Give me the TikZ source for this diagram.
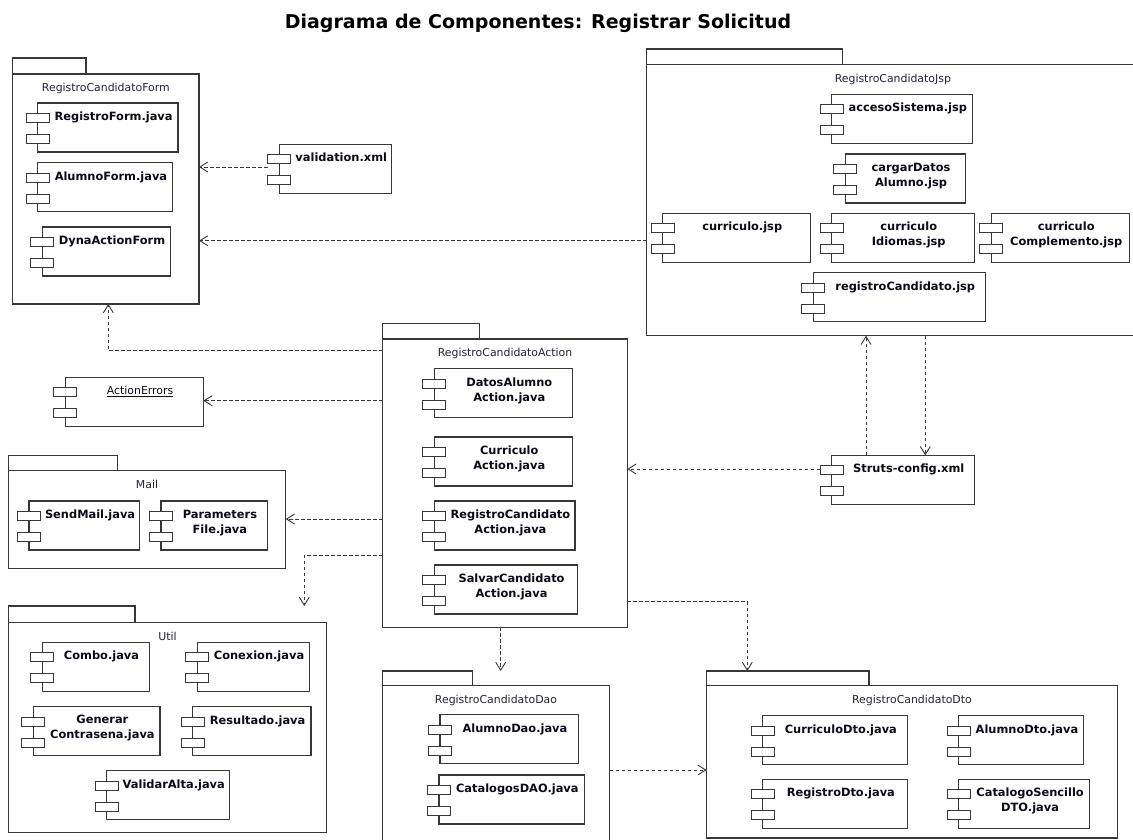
\documentclass[tikz,border=0pt]{standalone}
\usepackage{fontspec}
\setmainfont{DejaVu Sans}
\usetikzlibrary{arrows.meta}
\definecolor{lbl}{RGB}{35,35,60}
\definecolor{nm}{RGB}{10,10,25}
\definecolor{ln}{RGB}{55,55,55}
\newcommand\cfont{\fontsize{11.4}{15}\selectfont\bfseries}
\newcommand\lfont{\fontsize{10.9}{13}\selectfont}
\newcommand\tfont{\fontsize{19}{23}\selectfont\bfseries}
\tikzset{
  pkgbox/.style={draw=ln, fill=white, line width=1.1pt, inner sep=0pt, outer sep=0pt},
  plabel/.style={font=\lfont, text=lbl, anchor=north, inner sep=0pt},
  cbox/.style={draw=ln, fill=white, line width=1.1pt, minimum height=49pt, inner sep=0pt, outer sep=0pt},
  port/.style={draw=ln, fill=white, line width=1pt, minimum width=23pt, minimum height=9pt, inner sep=0pt, outer sep=0pt},
  cname/.style={font=\cfont, text=nm, align=center, anchor=north, inner sep=0pt},
  dep/.style={draw=ln, line width=0.9pt, dash pattern=on 3.5pt off 2.5pt, -{Straight Barb[length=8pt,width=10pt]}},
}
% component: name, x1, y1, x2, text
\newcommand\comp[5]{%
  \node[cbox, anchor=north west, minimum width={#4-#2}] (#1) at (#2,#3) {};
  \node[port] (#1-p1) at (#2,#3+15) {};
  \node[port] (#1-p2) at (#2,#3+36) {};
  \node[cname] (#1-t) at ({(#2+11.5+#4)/2},{#3+8.5}) {#5};
}
% package: name, x1, tab top, tab x2, body top, body x2, body y2, label
\newcommand\pkg[8]{%
  \node[pkgbox, anchor=north west, minimum width={#6-#2}, minimum height={#7-#5}] (#1) at (#2,#5) {};
  \node[pkgbox, anchor=south west, minimum width={#4-#2}, minimum height={#5-#3}] (#1-tab) at (#1.north west) {};
  \node[plabel] (#1-l) at ({(#2+#6)/2},{#5+9.5}) {#8};
}
\begin{document}
\begin{tikzpicture}[x=1pt,y=-1pt]
\useasboundingbox (0,0) rectangle (1133,840);

\node[font=\tfont, anchor=north, inner sep=0pt] (title) at (538,13.5) {Diagrama de Componentes: Registrar Solicitud};

% ---- RegistroCandidatoForm
\pkg{form}{12.7}{58}{86}{74}{199}{304}{RegistroCandidatoForm}
\comp{regform}{37.7}{103}{178}{RegistroForm.java}
\comp{alform}{37.7}{162.7}{172.7}{AlumnoForm.java}
\comp{dynaform}{42.3}{227}{170.3}{DynaActionForm}

% ---- validation.xml
\comp{valid}{279.3}{144.3}{391.7}{validation.xml}

% ---- RegistroCandidatoJsp
\pkg{jsp}{646.7}{49}{842.3}{64.7}{1139}{335.7}{RegistroCandidatoJsp}
\comp{acceso}{831.7}{94.3}{972.3}{accesoSistema.jsp}
\comp{cargar}{845.3}{154}{965.3}{cargarDatos\\Alumno.jsp}
\comp{curr}{662.7}{213.3}{810.3}{curriculo.jsp}
\comp{curridi}{831.7}{213.3}{974.3}{curriculo\\Idiomas.jsp}
\comp{currcomp}{991.3}{213.3}{1129.7}{curriculo\\Complemento.jsp}
\comp{regcand}{813.3}{272.7}{985.7}{registroCandidato.jsp}

% ---- RegistroCandidatoAction
\pkg{act}{382.7}{323.3}{479.3}{339}{627.3}{627.3}{RegistroCandidatoAction}
\comp{datosact}{434.3}{368.7}{572.7}{DatosAlumno\\Action.java}
\comp{curract}{434.3}{437}{572.7}{Curriculo\\Action.java}
\comp{regact}{434.3}{501}{575}{RegistroCandidato\\Action.java}
\comp{salvact}{434.3}{565}{577.3}{SalvarCandidato\\Action.java}

% ---- ActionErrors
\comp{aerr}{65.3}{377.3}{203.3}{\lfont\mdseries\underline{ActionErrors}}

% ---- Mail
\pkg{mail}{8.3}{455.3}{117.7}{470.7}{285.7}{568.7}{Mail}
\comp{sendmail}{29}{501}{139.7}{SendMail.java}
\comp{paramfile}{161}{501}{267.3}{Parameters\\File.java}

% ---- Util
\pkg{util}{8.3}{606}{135}{622.3}{326.7}{832.3}{Util}
\comp{combo}{42.3}{642.3}{149.3}{Combo.java}
\comp{conexion}{197.3}{642.3}{309.3}{Conexion.java}
\comp{generar}{33.3}{706.7}{160}{Generar\\Contrasena.java}
\comp{resultado}{192.7}{706.7}{311}{Resultado.java}
\comp{validar}{106.7}{770.7}{229.3}{ValidarAlta.java}

% ---- Struts-config.xml
\comp{struts}{831.7}{455.3}{974.3}{Struts-config.xml}

% ---- RegistroCandidatoDao
\pkg{dao}{382.4}{671}{472.2}{685.7}{609.6}{852}{RegistroCandidatoDao}
\comp{alumnodao}{440}{714.7}{578.4}{AlumnoDao.java}
\comp{catdao}{439}{775}{584.1}{CatalogosDAO.java}

% ---- RegistroCandidatoDto
\pkg{dto}{706.6}{671}{869}{685.7}{1117.3}{838}{RegistroCandidatoDto}
\comp{currdto}{762.8}{715.7}{907.4}{CurriculoDto.java}
\comp{alumnodto}{958.8}{715.7}{1083.6}{AlumnoDto.java}
\comp{regdto}{762.8}{779.3}{907.4}{RegistroDto.java}
\comp{catdto}{958.8}{779.3}{1089.9}{CatalogoSencillo\\DTO.java}

% ---- connectors
\coordinate (v-out) at (267.8,167);
\draw[dep] (v-out) -- (v-out -| form.east);
\draw[dep] (jsp.west |- 0,240.7) -- (form.east |- 0,240.7);
\draw[dep] (act.west |- 0,350.7) -| (108.3,0 |- form.south);
\draw[dep] (act.west |- 0,400.7) -- (aerr.east |- 0,400.7);
\draw[dep] (act.west |- 0,519) -- (mail.east |- 0,519);
\draw[dep] (act.west |- 0,555.3) -| (304.3,0 |- util-tab.north);
\draw[dep] (500.7,0 |- act.south) -- (500.7,0 |- dao-tab.north);
\draw[dep] (act.east |- 0,601.7) -| (747.3,0 |- dto-tab.north);
\draw[dep] (struts-p1.west |- 0,469) -- (act.east |- 0,469);
\draw[dep] (866,0 |- struts.north) -- (866,0 |- jsp.south);
\draw[dep] (925.3,0 |- jsp.south) -- (925.3,0 |- struts.north);
\draw[dep] (dao.east |- 0,770) -- (dto.west |- 0,770);
\end{tikzpicture}
\end{document}
